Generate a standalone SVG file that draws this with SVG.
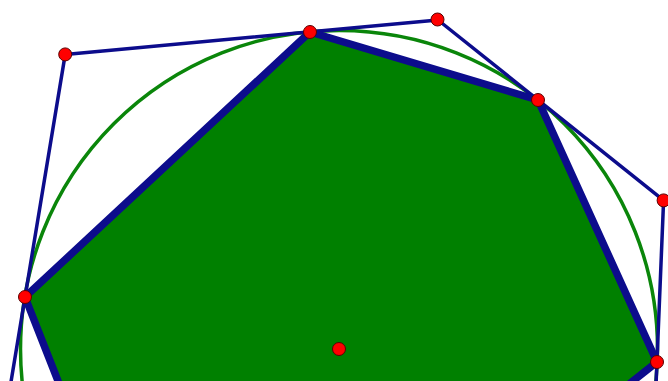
<svg xmlns="http://www.w3.org/2000/svg" width="668" height="381" viewBox="0 0 668 381">
<style>
.fill{fill:#008000;stroke:none}
.circ{fill:none;stroke:#0a860a;stroke-width:3.5}
.thin{fill:none;stroke:#0c0c8c;stroke-width:3.5;stroke-linejoin:round;stroke-linecap:round}
.thick{fill:none;stroke:#0c0c8c;stroke-width:7.5;stroke-linejoin:round;stroke-linecap:round}
.pt{fill:#ff0000;stroke:#5a0000;stroke-width:1}
</style>
<rect width="668" height="381" fill="#ffffff"/>
<g id="inscribed-polygon">
<polygon class="fill" points="25,297 310,32 538,100 657,362 278,662 144.5,601"/>
</g>
<g id="circle">
<circle class="circ" cx="339" cy="349" r="318.5"/>
</g>
<g id="connectors">
<polyline class="thin" points="8,400 65.2,54.4 438,20 663.6,200.4 655.4,400"/>
<polyline class="thick" points="144.5,601 25,297 310,32 538,100 657,362 278,662"/>
</g>
<g id="point-A"><circle class="pt" cx="65.2" cy="54.4" r="6.5"/></g>
<g id="point-T1"><circle class="pt" cx="310" cy="32" r="6.5"/></g>
<g id="point-B"><circle class="pt" cx="437.5" cy="19.5" r="6.5"/></g>
<g id="point-T2"><circle class="pt" cx="538" cy="100" r="6.5"/></g>
<g id="point-C"><circle class="pt" cx="663.6" cy="200.4" r="6.5"/></g>
<g id="point-T3"><circle class="pt" cx="657" cy="362" r="6.5"/></g>
<g id="point-T4"><circle class="pt" cx="25" cy="297" r="6.5"/></g>
<g id="point-O"><circle class="pt" cx="339" cy="349" r="6.5"/></g>
</svg>
